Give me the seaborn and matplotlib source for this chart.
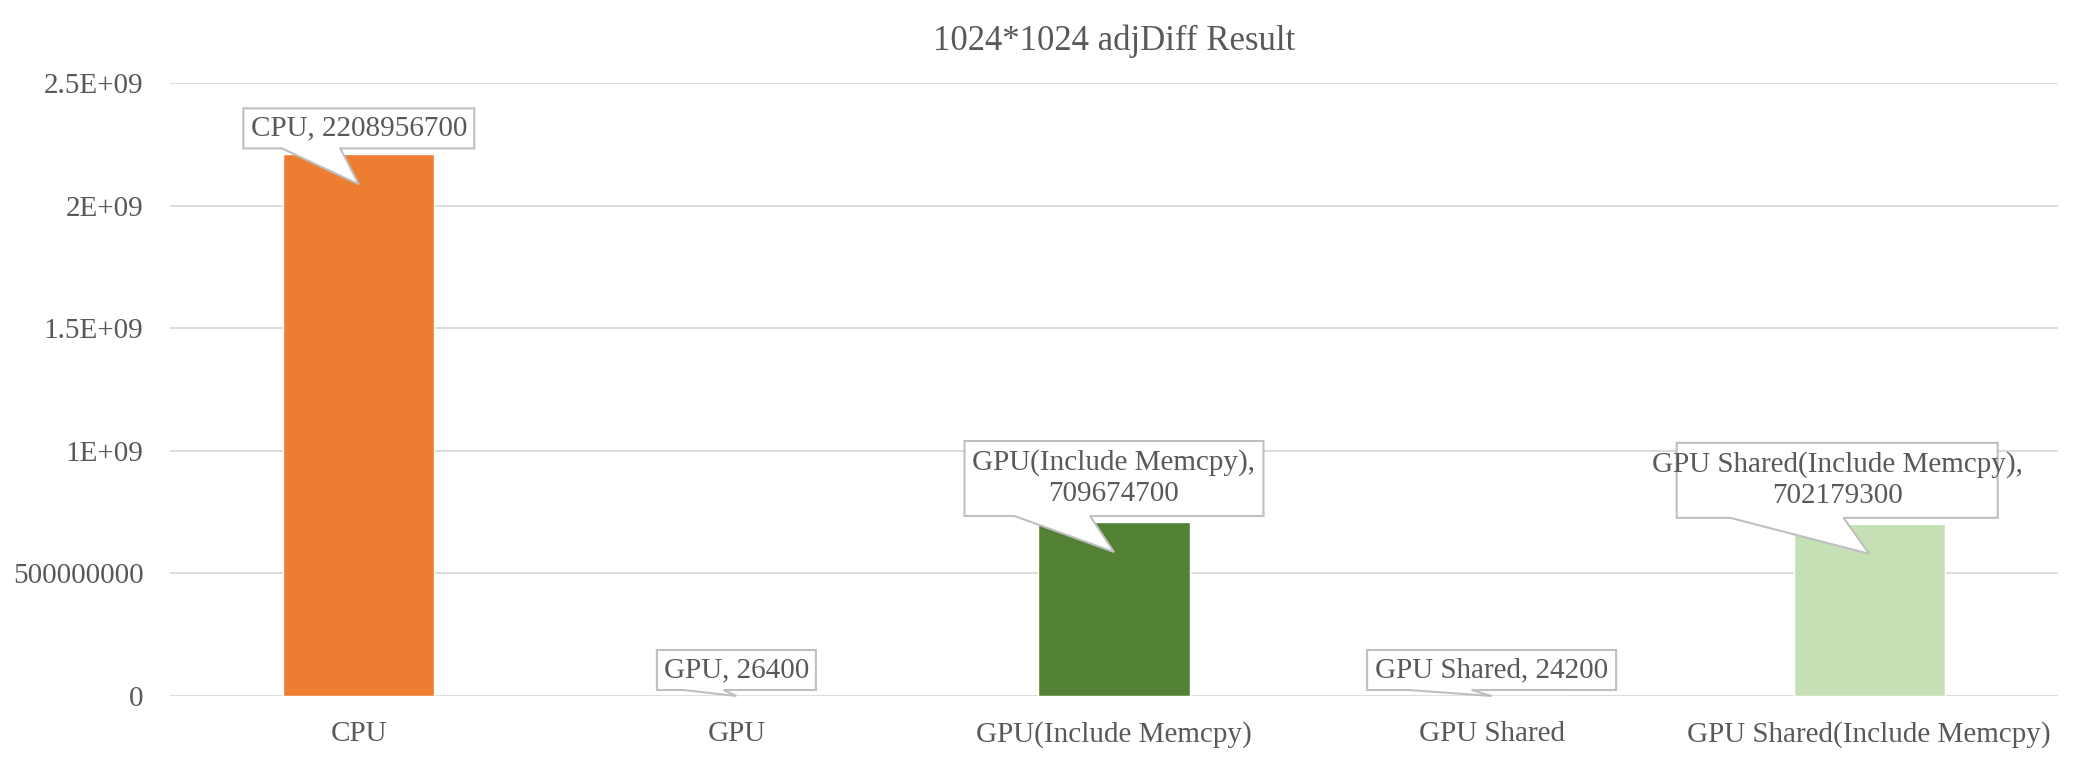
import matplotlib
matplotlib.use("Agg")
import matplotlib.pyplot as plt
from matplotlib.patches import Polygon
import seaborn as sns
import pandas as pd

categories = ["CPU", "GPU", "GPU(Include Memcpy)", "GPU Shared", "GPU Shared(Include Memcpy)"]
values = [2208956700, 26400, 709674700, 24200, 702179300]
callout_texts = ["CPU, 2208956700", "GPU, 26400", "GPU(Include Memcpy),\n709674700",
                 "GPU Shared, 24200", "GPU Shared(Include Memcpy),\n702179300"]
yticks = [0, 500000000, 1000000000, 1500000000, 2000000000, 2500000000]
ytick_labels = ["0", "500000000", "1E+09", "1.5E+09", "2E+09", "2.5E+09"]
title = "1024*1024 adjDiff Result"

colors = ["#ED7D31", "#4472C4", "#548235", "#4472C4", "#C5E0B4"]
# callout styling (pixel sizes): box width, box height, horizontal shift of box vs tip
box_w = [231, 159, 299, 249, 321]
box_h = [40, 40, 75, 40, 75]
box_shift = [0, 0, 0, 0, -32]

sns.set_style("white")
plt.rcParams['font.family'] = ['Liberation Serif', 'DejaVu Serif']
TXT = "#595959"
FS = 21

df = pd.DataFrame({"cat": categories, "val": values})
fig = plt.figure(figsize=(20.99, 7.61), dpi=100)
ax = fig.add_axes([170/2099, 65/761, (2058-170)/2099, (696-83)/761])
sns.barplot(data=df, x="cat", y="val", hue="cat", palette=colors, width=0.4,
            legend=False, ax=ax, saturation=1)
ax.set_ylim(0, 2.5e9)
ax.set_xlim(-0.5, 4.5)
ax.set_yticks(yticks)
ax.set_yticklabels(ytick_labels)
ax.yaxis.grid(True, color="#D9D9D9", linewidth=1.3)
ax.set_axisbelow(True)
for s in ax.spines.values():
    s.set_visible(False)
ax.tick_params(axis="both", length=0, labelsize=FS, colors=TXT)
ax.tick_params(axis="y", pad=19)
ax.tick_params(axis="x", pad=18)
ax.set_xlabel("")
ax.set_ylabel("")
fig.text((170+2058)/2/2099, 1-41/761, title, ha="center", va="center", fontsize=25, color=TXT)

fig.canvas.draw()
for i, (v, t) in enumerate(zip(values, callout_texts)):
    x0, ytop = ax.transData.transform((i, v))
    _, ybase = ax.transData.transform((i, 0))
    tip_y = ytop - min(30, ytop - ybase)
    tip_x = x0
    gap = 36 if (ytop - ybase) > 30 else 6
    w, h = box_w[i], box_h[i]
    cx = tip_x + box_shift[i]
    left, right = cx - w/2, cx + w/2
    bottom = tip_y + gap
    top = bottom + h
    wl = left + w/6
    wr = tip_x - 0.08*w
    verts = [(left, bottom), (wl, bottom), (tip_x, tip_y), (wr, bottom), (right, bottom),
             (right, top), (left, top)]
    poly = Polygon(verts, closed=True, facecolor="white", edgecolor="#BFBFBF",
                   linewidth=1.5, transform=None, zorder=5)
    fig.patches.append(poly)
    fig.text(cx/2099, (bottom + h/2)/761, t, ha="center", va="center", fontsize=FS,
             color=TXT, zorder=6, linespacing=1.25)

fig.savefig("out.png", dpi=100)
